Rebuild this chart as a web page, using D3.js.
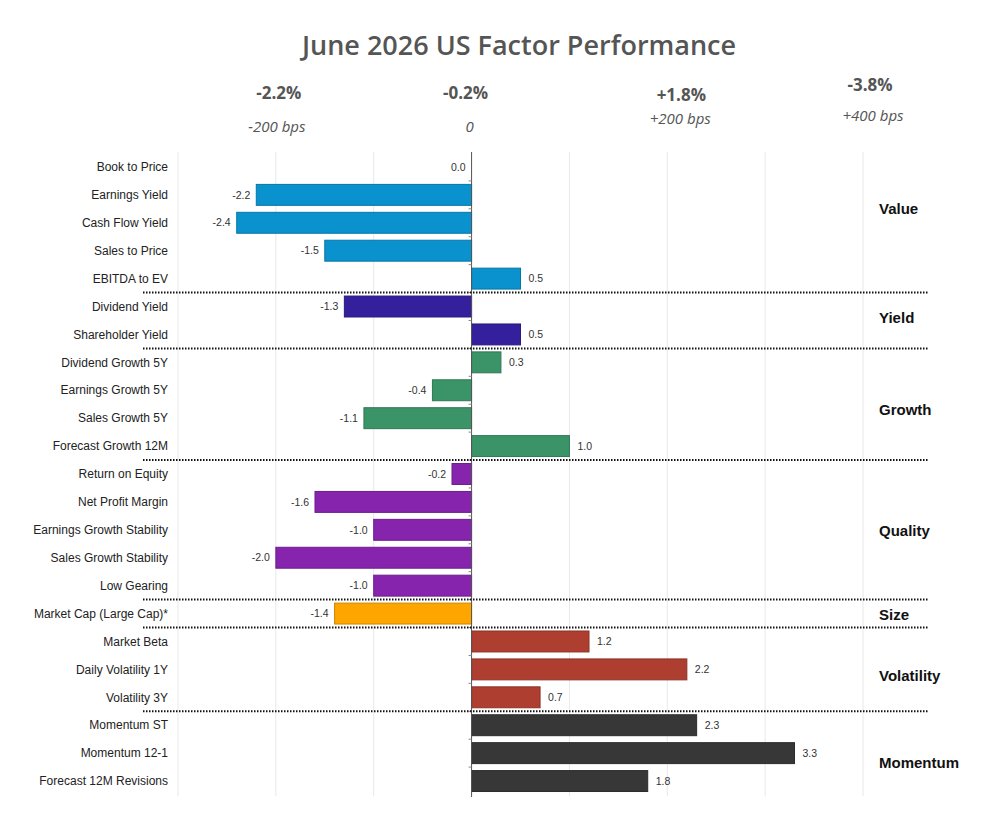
<!DOCTYPE html>
<html>
<head>
<meta charset="utf-8">
<script src="https://cdn.jsdelivr.net/npm/d3@7"></script>
<style>
  body { margin: 0; background: #fff; }
  svg { display: block; }
</style>
</head>
<body>
<svg width="989" height="830"></svg>
<script>
const factors = [
  "Book to Price", "Earnings Yield", "Cash Flow Yield", "Sales to Price", "EBITDA to EV",
  "Dividend Yield", "Shareholder Yield",
  "Dividend Growth 5Y", "Earnings Growth 5Y", "Sales Growth 5Y", "Forecast Growth 12M",
  "Return on Equity", "Net Profit Margin", "Earnings Growth Stability", "Sales Growth Stability", "Low Gearing",
  "Market Cap (Large Cap)*",
  "Market Beta", "Daily Volatility 1Y", "Volatility 3Y",
  "Momentum ST", "Momentum 12-1", "Forecast 12M Revisions"
];
const returns = [
  0.0, -2.2, -2.4, -1.5, 0.5,
  -1.3, 0.5,
  0.3, -0.4, -1.1, 1.0,
  -0.2, -1.6, -1.0, -2.0, -1.0,
  -1.4,
  1.2, 2.2, 0.7,
  2.3, 3.3, 1.8
];
const groupNames = ["Value", "Yield", "Growth", "Quality", "Size", "Volatility", "Momentum"];
const groupSizes = [5, 2, 4, 5, 1, 3, 3];
const groupColors = ["#0992cd", "#34209c", "#3b9468", "#8624ae", "#ffa500", "#ad3e30", "#373737"];

const headlineReturns = ["-2.2%", "-0.2%", "+1.8%", "-3.8%"];
const bpsLabels = ["-200 bps", "0", "+200 bps", "+400 bps"];
const bpsValues = [-200, 0, 200, 400];

// group index for each factor row
const groupOf = [];
groupSizes.forEach((n, g) => { for (let i = 0; i < n; i++) groupOf.push(g); });

const svg = d3.select("svg");

const x = d3.scaleLinear().domain([-3, 4]).range([178, 863]);
const y = d3.scaleBand().domain(factors).range([153, 795]).paddingInner(0.25).paddingOuter(0.125);
const color = d3.scaleOrdinal().domain(groupNames).range(groupColors);

// hand nudges so the loose header / side labels sit where the original had them
const headNudgeX = [3, -6, 14, 7];
const headNudgeY = [0, 0, 2, -8];
const bpsNudgeX = [1, -2, 13, 10];
const bpsNudgeY = [0, 0, -8, -11];
const groupNudgeY = [-14, -3, 6, 1, 1, 6, 10];

// title
svg.append("text")
  .attr("x", 519).attr("y", 55)
  .attr("text-anchor", "middle")
  .style("font-family", "'Open Sans', sans-serif")
  .style("font-weight", 600)
  .style("font-size", "27px")
  .attr("fill", "#555")
  .text("June 2026 US Factor Performance");

// headline returns above the grid
const heads = svg.append("g").selectAll("g")
  .data(bpsValues)
  .join("g")
  .attr("transform", (d) => `translate(${x(d / 100)},0)`);
heads.append("text")
  .attr("x", (d, i) => headNudgeX[i])
  .attr("y", (d, i) => 99 + headNudgeY[i])
  .attr("text-anchor", "middle")
  .style("font-family", "'Open Sans', sans-serif")
  .style("font-weight", 700)
  .style("font-size", "17px")
  .attr("fill", "#555")
  .text((d, i) => headlineReturns[i]);
heads.append("text")
  .attr("x", (d, i) => bpsNudgeX[i])
  .attr("y", (d, i) => 132 + bpsNudgeY[i])
  .attr("text-anchor", "middle")
  .style("font-family", "'Open Sans', sans-serif")
  .style("font-style", "italic")
  .style("font-size", "15px")
  .attr("fill", "#555")
  .text((d, i) => bpsLabels[i]);

// vertical gridlines
svg.append("g")
  .selectAll("line")
  .data(x.ticks(7).filter((t) => t !== 0))
  .join("line")
  .attr("x1", (d) => x(d)).attr("x2", (d) => x(d))
  .attr("y1", 152).attr("y2", 796)
  .attr("stroke", "#e8e8e8")
  .attr("stroke-width", 1);

// bars
svg.append("g")
  .selectAll("rect")
  .data(factors)
  .join("rect")
  .attr("x", (d, i) => x(Math.min(0, returns[i])))
  .attr("y", (d) => y(d))
  .attr("width", (d, i) => Math.abs(x(returns[i]) - x(0)))
  .attr("height", y.bandwidth())
  .attr("fill", (d, i) => color(groupNames[groupOf[i]]))
  .attr("stroke", (d, i) => d3.color(color(groupNames[groupOf[i]])).darker(0.6))
  .attr("stroke-width", 1);

// value labels
svg.append("g")
  .selectAll("text")
  .data(factors)
  .join("text")
  .attr("x", (d, i) => returns[i] > 0 ? x(returns[i]) + 8 : x(returns[i]) - 6)
  .attr("y", (d) => y(d) + y.bandwidth() / 2)
  .attr("dy", "0.35em")
  .attr("text-anchor", (d, i) => returns[i] > 0 ? "start" : "end")
  .style("font-family", "'Liberation Sans', Arial, sans-serif")
  .style("font-size", "10.5px")
  .attr("fill", "#333")
  .text((d, i) => returns[i].toFixed(1));

// zero axis with small ticks between rows
const yAxis = d3.axisLeft(y).tickSize(0).tickFormat("");
svg.append("g")
  .attr("transform", `translate(${x(0)},0)`)
  .call(yAxis)
  .call((g) => g.select(".domain").attr("stroke", "#555").attr("d", "M0,152V797"));
svg.append("g")
  .selectAll("line")
  .data(factors.slice(1))
  .join("line")
  .attr("x1", x(0) - 3).attr("x2", x(0))
  .attr("y1", (d) => y(d) - y.step() * y.paddingInner() / 2)
  .attr("y2", (d) => y(d) - y.step() * y.paddingInner() / 2)
  .attr("stroke", "#888");

// factor names
svg.append("g")
  .selectAll("text")
  .data(factors)
  .join("text")
  .attr("x", 168)
  .attr("y", (d) => y(d) + y.bandwidth() / 2)
  .attr("dy", "0.35em")
  .attr("text-anchor", "end")
  .style("font-family", "'Liberation Sans', Arial, sans-serif")
  .style("font-size", "12px")
  .attr("fill", "#222")
  .text((d) => d);

// group separators + group names
const firstIdx = groupSizes.map((n, g) => d3.sum(groupSizes.slice(0, g)));
svg.append("g")
  .selectAll("line")
  .data(firstIdx.slice(1))
  .join("line")
  .attr("x1", 143).attr("x2", 928)
  .attr("y1", (d) => y(factors[d]) - y.step() * y.paddingInner() / 2)
  .attr("y2", (d) => y(factors[d]) - y.step() * y.paddingInner() / 2)
  .attr("stroke", "#111")
  .attr("stroke-width", 2)
  .attr("stroke-dasharray", "1.5,1.5");

svg.append("g")
  .selectAll("text")
  .data(groupNames)
  .join("text")
  .attr("x", 879)
  .attr("y", (d, g) => {
    const a = factors[firstIdx[g]], b = factors[firstIdx[g] + groupSizes[g] - 1];
    return (y(a) + y(b) + y.bandwidth()) / 2 + groupNudgeY[g];
  })
  .attr("dy", "0.35em")
  .style("font-family", "'Liberation Sans', Arial, sans-serif")
  .style("font-weight", 700)
  .style("font-size", "15px")
  .attr("fill", "#111")
  .text((d) => d);
</script>
</body>
</html>
